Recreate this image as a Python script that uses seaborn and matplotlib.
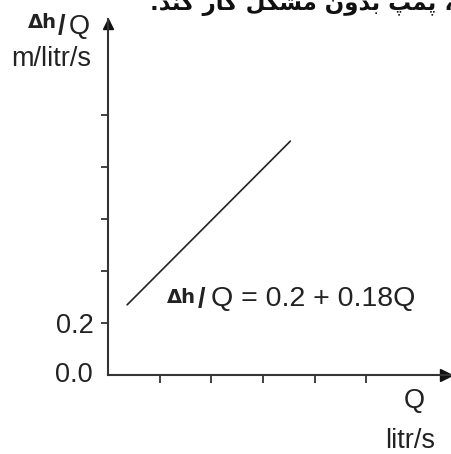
import numpy as np
import pandas as pd
import matplotlib
matplotlib.use("Agg")
import matplotlib.pyplot as plt
import seaborn as sns

# ---------------------------------------------------------------------------
# Data
# ---------------------------------------------------------------------------
q_vals = [0.37, 3.53]          # Q, litr/s
dhq_vals = [0.27, 0.90]        # dh/Q, m/litr/s
x_ticks = [1, 2, 3, 4, 5]
y_ticks = [0.2, 0.4, 0.6, 0.8, 1.0]
y_ticklabels = ["0.2", "", "", "", ""]
x_max, y_max = 6.64, 1.37
caption = "، پمپ بدون مشکل کار کند."

# ---------------------------------------------------------------------------
# Minimal Persian shaping (matplotlib has no bidi / joining support)
# ---------------------------------------------------------------------------
forms = {  # isolated, final, initial, medial
    "پ": ("\ufb56", "\ufb57", "\ufb58", "\ufb59"),
    "م": ("\ufee1", "\ufee2", "\ufee3", "\ufee4"),
    "ب": ("\ufe8f", "\ufe90", "\ufe91", "\ufe92"),
    "ن": ("\ufee5", "\ufee6", "\ufee7", "\ufee8"),
    "ش": ("\ufeb5", "\ufeb6", "\ufeb7", "\ufeb8"),
    "ک": ("\ufb8e", "\ufb8f", "\ufb90", "\ufb91"),
    "ل": ("\ufedd", "\ufede", "\ufedf", "\ufee0"),
    "د": ("\ufea9", "\ufeaa", None, None),
    "و": ("\ufeed", "\ufeee", None, None),
    "ا": ("\ufe8d", "\ufe8e", None, None),
    "ر": ("\ufead", "\ufeae", None, None),
}


def shape(text):
    out = []
    for i, c in enumerate(text):
        if c not in forms:
            out.append(c)
            continue
        prev = text[i - 1] if i > 0 else ""
        nxt = text[i + 1] if i + 1 < len(text) else ""
        j_prev = prev in forms and forms[prev][2] is not None
        j_next = nxt in forms and forms[c][2] is not None
        iso, fin, ini, med = forms[c]
        if j_prev and j_next:
            out.append(med)
        elif j_prev:
            out.append(fin)
        elif j_next:
            out.append(ini)
        else:
            out.append(iso)
    return "".join(reversed(out))


def px(x, y):
    # pixel position from the top-left -> figure fraction
    return x / 451, 1 - y / 454


df = pd.DataFrame({"Q": q_vals, "dhQ": dhq_vals})

sns.set_style("white")
plt.rcParams["font.family"] = ["Liberation Sans", "DejaVu Sans"]

fig = plt.figure(figsize=(4.51, 4.54), dpi=100)
ax = fig.add_axes([108 / 451, 79 / 454, 343 / 451, 356 / 454])

axis_col = "#333333"
txt_col = "#222222"
sns.lineplot(data=df, x="Q", y="dhQ", color="#222222", linewidth=1.2, ax=ax)

ax.set_xlim(0, x_max)
ax.set_ylim(0, y_max)
ax.set_xlabel("")
ax.set_ylabel("")

for s in ["top", "right"]:
    ax.spines[s].set_visible(False)
for s in ["left", "bottom"]:
    ax.spines[s].set_color(axis_col)
    ax.spines[s].set_linewidth(1.5)

ax.set_xticks(x_ticks)
ax.set_xticklabels([])
ax.set_yticks(y_ticks)
ax.set_yticklabels(y_ticklabels, fontsize=19.5, color=txt_col)
ax.tick_params(axis="x", bottom=True, direction="out", length=6, width=1.3, color=axis_col)
ax.tick_params(axis="y", left=True, direction="out", length=5, width=1.3, color=axis_col, pad=5)
ax.text(-0.045, 0, "0.0", transform=ax.get_yaxis_transform(), ha="right", va="center",
        fontsize=19.5, color=txt_col)

# axis arrows
ax.plot(0.985, 0, ">", color="#111111", markersize=8, transform=ax.transAxes, clip_on=False)
ax.plot(0, 0.985, "^", color="#111111", markersize=7, transform=ax.transAxes, clip_on=False)

# y-axis title
fig.text(*px(28, 28), "Δh", fontsize=14, fontweight="bold", family=["DejaVu Sans"],
         ha="left", va="baseline", color=txt_col)
fig.text(*px(58, 34), "/", fontsize=19.5, fontweight="bold", ha="left", va="baseline",
         color=txt_col)
fig.text(*px(69, 34), "Q", fontsize=19.5, ha="left", va="baseline", color=txt_col)
fig.text(*px(91, 59), "m/litr/s", fontsize=19.5, ha="right", va="center", color=txt_col)

# x-axis title
fig.text(*px(414, 401), "Q", fontsize=19.5, ha="center", va="center", color=txt_col)
fig.text(*px(410, 441), "litr/s", fontsize=19.5, ha="center", va="center", color=txt_col)

# equation
fig.text(*px(167, 303), "Δh", fontsize=14, fontweight="bold", family=["DejaVu Sans"],
         ha="left", va="baseline", color=txt_col)
fig.text(*px(198, 307), "/", fontsize=19.5, fontweight="bold", ha="left", va="baseline",
         color=txt_col)
fig.text(*px(211, 306), "Q = 0.2 + 0.18Q", fontsize=20.5, ha="left", va="baseline",
         color=txt_col)

# clipped caption line from the source page
fig.text(*px(453, 10), shape(caption), fontsize=16.5, fontweight="bold", ha="right",
         va="baseline", family=["DejaVu Sans"], color="#111111")

fig.savefig("out.png", dpi=100)
